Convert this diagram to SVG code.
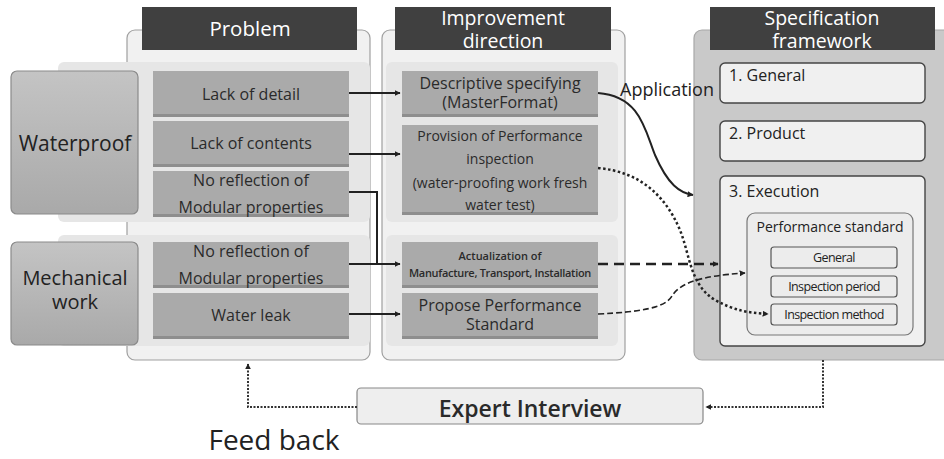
<svg xmlns="http://www.w3.org/2000/svg" width="944" height="459" viewBox="0 0 944 459">
<defs>
<style>
text{font-family:"Open Sans","Noto Sans","Liberation Sans",sans-serif;fill:#2a2a2a;text-anchor:middle}
.hdr{fill:#404040}
.ht{fill:#fff;font-size:20.5px}
.ht2{fill:#fff;font-size:19.5px}
.panel{fill:#f1f1f1;stroke:#a0a0a0;stroke-width:1.2}
.band{fill:#e6e6e6}
.box{fill:#aaaaaa}
.sh{fill:#8e8e8e}
.bt{font-size:16px}
.cat{fill:url(#g1);stroke:#8a8a8a;stroke-width:1.2}
.ct{font-size:21px;fill:#222}
.ct2{font-size:20px;fill:#222}
.sbox{fill:#f0f0f0;stroke:#444;stroke-width:1.4}
.st{font-size:16px;text-anchor:start;fill:#222}
.ib{fill:#ececec;stroke:#555;stroke-width:1.2}
.it{font-size:12.5px;letter-spacing:-0.6px;fill:#222}
.ln{fill:none;stroke:#222;stroke-width:2}
</style>
<linearGradient id="g1" x1="0" y1="0" x2="0" y2="1">
<stop offset="0" stop-color="#c4c4c4"/>
<stop offset="1" stop-color="#a9a9a9"/>
</linearGradient>
<marker id="ar" viewBox="0 0 10 10" refX="9" refY="5" markerWidth="6" markerHeight="6" orient="auto" markerUnits="userSpaceOnUse">
<path d="M0,0 L10,5 L0,10 z" fill="#222"/>
</marker>
</defs>

<!-- panels -->
<g id="problem-panel">
<rect class="panel" x="127" y="30" width="243" height="330" rx="8"/>
</g>
<g id="improvement-panel">
<rect class="panel" x="382" y="30" width="243" height="330" rx="8"/>
</g>
<g id="spec-panel">
<rect x="694" y="30" width="260" height="330" rx="8" fill="#c9c9c9" stroke="#a8a8a8" stroke-width="1.2"/>
</g>

<!-- row bands -->
<g id="bands">
<rect class="band" x="58" y="62" width="312" height="160" rx="6"/>
<rect class="band" x="386" y="62" width="232" height="160" rx="6"/>
<rect class="band" x="58" y="235" width="312" height="111" rx="6"/>
<rect class="band" x="386" y="235" width="232" height="111" rx="6"/>
</g>

<!-- headers -->
<g id="hdr-problem">
<rect class="hdr" x="142" y="7" width="215" height="43"/>
<text class="ht" x="250" y="36">Problem</text>
</g>
<g id="hdr-improvement">
<rect class="hdr" x="395" y="7" width="216" height="43"/>
<text class="ht2" x="503" y="25">Improvement</text>
<text class="ht2" x="503" y="48">direction</text>
</g>
<g id="hdr-spec">
<rect class="hdr" x="710" y="7" width="225" height="43"/>
<text class="ht2" x="822" y="25">Specification</text>
<text class="ht2" x="822" y="48">framework</text>
</g>

<!-- categories -->
<g id="cat-waterproof">
<rect class="cat" x="11" y="71" width="127" height="143" rx="6"/>
<text class="ct" x="75" y="151">Waterproof</text>
</g>
<g id="cat-mechanical">
<rect class="cat" x="11" y="242" width="127" height="103" rx="6"/>
<text class="ct2" x="75" y="285">Mechanical</text>
<text class="ct2" x="75" y="309">work</text>
</g>

<!-- problem boxes -->
<g id="p-lack-detail">
<rect class="sh" x="153" y="73" width="196" height="44"/>
<rect class="box" x="153" y="71" width="196" height="43"/>
<text class="bt" x="251" y="100">Lack of detail</text>
</g>
<g id="p-lack-contents">
<rect class="sh" x="153" y="123" width="196" height="44"/>
<rect class="box" x="153" y="121" width="196" height="43"/>
<text class="bt" x="251" y="149">Lack of contents</text>
</g>
<g id="p-noref-w">
<rect class="sh" x="153" y="173" width="196" height="44"/>
<rect class="box" x="153" y="171" width="196" height="43"/>
<text class="bt" x="251" y="186">No reflection of</text>
<text class="bt" x="251" y="213">Modular properties</text>
</g>
<g id="p-noref-m">
<rect class="sh" x="153" y="244" width="196" height="44"/>
<rect class="box" x="153" y="242" width="196" height="43"/>
<text class="bt" x="251" y="257">No reflection of</text>
<text class="bt" x="251" y="284">Modular properties</text>
</g>
<g id="p-water-leak">
<rect class="sh" x="153" y="295" width="196" height="44"/>
<rect class="box" x="153" y="293" width="196" height="43"/>
<text class="bt" x="251" y="321">Water leak</text>
</g>

<!-- improvement boxes -->
<g id="i-descriptive">
<rect class="sh" x="402" y="73" width="196" height="44"/>
<rect class="box" x="402" y="71" width="196" height="43"/>
<text class="bt" x="500" y="89">Descriptive specifying</text>
<text class="bt" x="500" y="108">(MasterFormat)</text>
</g>
<g id="i-provision">
<rect class="sh" x="402" y="127" width="196" height="88"/>
<rect class="box" x="402" y="125" width="196" height="87"/>
<text x="500" y="141" style="font-size:14px">Provision of Performance</text>
<text x="500" y="164" style="font-size:14px">inspection</text>
<text x="500" y="188" style="font-size:14px">(water-proofing work fresh</text>
<text x="500" y="210" style="font-size:14px">water test)</text>
</g>
<g id="i-actualization">
<rect class="sh" x="402" y="244" width="196" height="44"/>
<rect class="box" x="402" y="242" width="196" height="43"/>
<text x="500" y="260" style="font-size:11px;font-weight:600">Actualization of</text>
<text x="500" y="277" style="font-size:11px;font-weight:600;letter-spacing:-0.3px">Manufacture, Transport, Installation</text>
</g>
<g id="i-propose">
<rect class="sh" x="402" y="295" width="196" height="44"/>
<rect class="box" x="402" y="293" width="196" height="43"/>
<text x="500" y="311" style="font-size:16px">Propose Performance</text>
<text x="500" y="330" style="font-size:16px">Standard</text>
</g>

<!-- spec boxes -->
<g id="s-general">
<rect class="sbox" x="720" y="63" width="205" height="40" rx="5"/>
<text class="st" x="729" y="81">1. General</text>
</g>
<g id="s-product">
<rect class="sbox" x="720" y="121" width="205" height="40" rx="5"/>
<text class="st" x="729" y="139">2. Product</text>
</g>
<g id="s-execution">
<rect class="sbox" x="720" y="176" width="205" height="170" rx="5"/>
<text class="st" x="729" y="197">3. Execution</text>
</g>
<g id="s-perf-standard">
<rect x="747" y="213" width="166" height="122" rx="8" fill="#ececec" stroke="#777" stroke-width="1.2"/>
<text x="830" y="232" style="font-size:14px;fill:#222">Performance standard</text>
</g>
<g id="s-ps-general">
<rect class="ib" x="771" y="247" width="126" height="21" rx="3"/>
<text class="it" x="834" y="262">General</text>
</g>
<g id="s-ps-period">
<rect class="ib" x="771" y="276" width="126" height="21" rx="3"/>
<text class="it" x="834" y="291">Inspection period</text>
</g>
<g id="s-ps-method">
<rect class="ib" x="771" y="304" width="126" height="21" rx="3"/>
<text class="it" x="834" y="319">Inspection method</text>
</g>

<!-- expert interview -->
<g id="expert">
<rect x="357" y="388" width="346" height="36" rx="4" fill="#eeeeee" stroke="#888" stroke-width="1.2"/>
<text x="530" y="417" style="font-size:23px;font-weight:600;fill:#2a2a2a">Expert Interview</text>
</g>

<!-- connectors -->
<g id="connectors">
<path class="ln" d="M349,93 H400" marker-end="url(#ar)"/>
<path class="ln" d="M349,154 H400" marker-end="url(#ar)"/>
<path class="ln" d="M349,192 H377 V264"/>
<path class="ln" d="M349,264 H400" marker-end="url(#ar)"/>
<path class="ln" d="M349,314 H400" marker-end="url(#ar)"/>
<path class="ln" d="M598,93 C640,96 645,130 655,155 C668,185 680,193 693,195" marker-end="url(#ar)"/>
<text x="667" y="96" style="font-size:18px;fill:#222">Application</text>
<path d="M598,168 C640,172 665,195 680,230 C690,255 690,285 715,300 C735,311 750,313 768,314" fill="none" stroke="#222" stroke-width="2.5" stroke-dasharray="2.5 2.5" marker-end="url(#ar)"/>
<path d="M598,264 H718" fill="none" stroke="#222" stroke-width="2.5" stroke-dasharray="10 6" marker-end="url(#ar)"/>
<path d="M598,314 C640,312 665,308 672,296 C680,283 700,276 745,273" fill="none" stroke="#222" stroke-width="1.6" stroke-dasharray="6 3" marker-end="url(#ar)"/>
<path d="M823,360 V407 H706" fill="none" stroke="#333" stroke-width="2" stroke-dasharray="2 1.5" marker-end="url(#ar)"/>
<path d="M357,407 H248 V364" fill="none" stroke="#333" stroke-width="2" stroke-dasharray="2 1.5" marker-end="url(#ar)"/>
</g>

<g id="feedback-label">
<text x="274" y="450" style="font-size:28px;fill:#222">Feed back</text>
</g>
</svg>
